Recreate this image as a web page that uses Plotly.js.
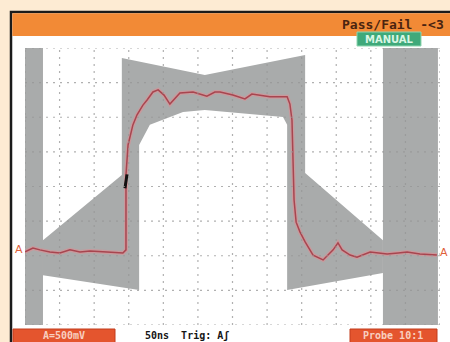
<!DOCTYPE html>
<html><head><meta charset="utf-8">
<script src="https://cdn.plot.ly/plotly-3.0.1.min.js"></script>
<style>html,body{margin:0;padding:0;background:#FDEBD3;}#chart{width:450px;height:342px;}</style>
</head><body><div id="chart"></div>
<script>
// Screen in divisions: 12 horizontal (50 ns/div), 8 vertical (500 mV/div)
const xDivs = [0,1,2,3,4,5,6,7,8,9,10,11,12];
const yDivs = [0,1,2,3,4,5,6,7,8];

// Measured waveform (divisions)
const traceX = [0,0.23,0.43,0.72,1.01,1.30,1.59,1.88,2.37,2.83,2.92,2.92,2.98,3.04,3.12,3.24,3.41,3.53,3.70,3.85,4.02,4.19,4.34,4.48,4.86,5.26,5.49,5.64,6.01,6.36,6.56,6.80,7.08,7.58,7.66,7.72,7.75,7.78,7.84,7.95,8.10,8.33,8.62,8.91,9.05,9.17,9.40,9.60,9.98,10.47,10.79,11.05,11.42,11.91];
const traceY = [2.11,2.22,2.17,2.11,2.08,2.17,2.11,2.14,2.11,2.08,2.17,4.33,5.20,5.49,5.78,6.07,6.35,6.50,6.73,6.79,6.64,6.38,6.56,6.70,6.73,6.61,6.73,6.73,6.64,6.53,6.67,6.64,6.59,6.59,6.38,5.92,4.77,3.61,2.97,2.69,2.40,2.02,1.88,2.17,2.37,2.17,2.02,1.96,2.11,2.05,2.08,2.11,2.05,2.02];

// Pass/fail mask (divisions)
const maskX = [0.52,2.80,2.80,5.20,8.10,8.10,10.35,10.35,7.58,7.58,7.46,5.20,4.57,3.61,3.30,3.30,0.52,0.52];
const maskY = [2.45,4.33,7.71,7.22,7.80,4.39,2.45,1.50,1.01,5.78,6.01,6.21,6.15,5.78,5.20,1.01,1.44,2.45];
const leftBarX = [0,0.52,0.52,0,0];
const leftBarY = [0,0,8,8,0];
const rightBarX = [10.35,11.94,11.94,10.35,10.35];
const rightBarY = [0,0,8,8,0];

// Trigger marker
const trigX = [2.89,2.95];
const trigY = [3.95,4.35];

const labels = {
  header: 'Pass/Fail -&lt;3',
  mode: 'MANUAL',
  chA: 'A=500mV',
  time: '50ns  Trig: Aʃ',
  probe: 'Probe 10:1',
  gnd: 'A'
};

// pixel -> paper helpers for decoration
const L=25, T=48, W=415, H=277;
const PX = p => (p-L)/W;
const PY = p => (T+H-p)/H;

const gray = '#a9abab';
const traces = [
  {x:leftBarX, y:leftBarY, mode:'lines', fill:'toself', fillcolor:gray, line:{width:0}, hoverinfo:'skip'},
  {x:rightBarX, y:rightBarY, mode:'lines', fill:'toself', fillcolor:gray, line:{width:0}, hoverinfo:'skip'},
  {x:maskX, y:maskY, mode:'lines', fill:'toself', fillcolor:gray, line:{width:0}, hoverinfo:'skip'},
  {x:traceX, y:traceY, mode:'lines', line:{color:'rgba(215,145,150,0.7)', width:4}, hoverinfo:'skip'},
  {x:traceX, y:traceY, mode:'lines', line:{color:'#a8454f', width:1.5}, hoverinfo:'skip'},
  {x:trigX, y:trigY, mode:'lines', line:{color:'#111', width:3}, hoverinfo:'skip'}
];

const shapes = [];
// frame + white screen
shapes.push({type:'rect', xref:'paper', yref:'paper', layer:'below', x0:PX(11), x1:PX(452), y0:PY(12), y1:PY(345), fillcolor:'#ffffff', line:{color:'#1b1b1b', width:2.5}});
// orange header
shapes.push({type:'rect', xref:'paper', yref:'paper', layer:'below', x0:PX(12.3), x1:PX(452), y0:PY(13.3), y1:PY(36), fillcolor:'#F28A36', line:{width:0}});
// MANUAL badge
shapes.push({type:'rect', xref:'paper', yref:'paper', layer:'above', x0:PX(357), x1:PX(421), y0:PY(32), y1:PY(46), fillcolor:'#3FA97A', line:{color:'#8fd6b0', width:1}});
// bottom label boxes
shapes.push({type:'rect', xref:'paper', yref:'paper', layer:'above', x0:PX(13), x1:PX(115), y0:PY(329), y1:PY(344), fillcolor:'#E4552E', line:{color:'#c23c1c', width:1}});
shapes.push({type:'rect', xref:'paper', yref:'paper', layer:'above', x0:PX(350), x1:PX(437), y0:PY(329), y1:PY(344), fillcolor:'#E4552E', line:{color:'#c23c1c', width:1}});
// dotted graticule
xDivs.forEach(v => shapes.push({type:'line', xref:'x', yref:'y', layer:'above', x0:v, x1:v, y0:0, y1:8, line:{color:'rgba(150,150,150,0.75)', width:1.2, dash:'2px,5px'}}));
yDivs.forEach(v => shapes.push({type:'line', xref:'x', yref:'y', layer:'above', x0:0, x1:12, y0:v, y1:v, line:{color:'rgba(150,150,150,0.75)', width:1.2, dash:'2px,5px'}}));

const mono = 'DejaVu Sans Mono, monospace';
const annotations = [
  {xref:'paper', yref:'paper', x:PX(446), y:PY(25), xanchor:'right', yanchor:'middle', text:'<b>'+labels.header+'</b>', showarrow:false, font:{family:mono, size:13, color:'#4a2410'}},
  {xref:'paper', yref:'paper', x:PX(389), y:PY(39.5), xanchor:'center', yanchor:'middle', text:'<b>'+labels.mode+'</b>', showarrow:false, font:{family:'DejaVu Sans, sans-serif', size:10, color:'#d9f6e4'}},
  {xref:'paper', yref:'paper', x:PX(64), y:PY(335), xanchor:'center', yanchor:'middle', text:'<b>'+labels.chA+'</b>', showarrow:false, font:{family:mono, size:10, color:'#f8cfc0'}},
  {xref:'paper', yref:'paper', x:PX(143), y:PY(335), xanchor:'left', yanchor:'middle', text:'<b>'+labels.time+'</b>', showarrow:false, font:{family:mono, size:10, color:'#151515'}},
  {xref:'paper', yref:'paper', x:PX(393), y:PY(335), xanchor:'center', yanchor:'middle', text:'<b>'+labels.probe+'</b>', showarrow:false, font:{family:mono, size:10, color:'#f8cfc0'}},
  {xref:'paper', yref:'paper', x:PX(19), y:PY(250), xanchor:'center', yanchor:'middle', text:labels.gnd, showarrow:false, font:{family:'DejaVu Sans, sans-serif', size:11, color:'#e0603a'}},
  {xref:'paper', yref:'paper', x:PX(444), y:PY(252), xanchor:'center', yanchor:'middle', text:labels.gnd, showarrow:false, font:{family:'DejaVu Sans, sans-serif', size:11, color:'#e0603a'}}
];

const layout = {
  width:450, height:342,
  margin:{l:L, r:450-L-W, t:T, b:342-T-H, pad:0},
  paper_bgcolor:'#FDEBD3', plot_bgcolor:'rgba(0,0,0,0)',
  showlegend:false,
  xaxis:{range:[0,12], showgrid:false, zeroline:false, showticklabels:false, ticks:'', showline:false, fixedrange:true},
  yaxis:{range:[0,8], showgrid:false, zeroline:false, showticklabels:false, ticks:'', showline:false, fixedrange:true},
  shapes:shapes, annotations:annotations
};
Plotly.newPlot('chart', traces, layout, {displayModeBar:false, staticPlot:true});
</script></body></html>
